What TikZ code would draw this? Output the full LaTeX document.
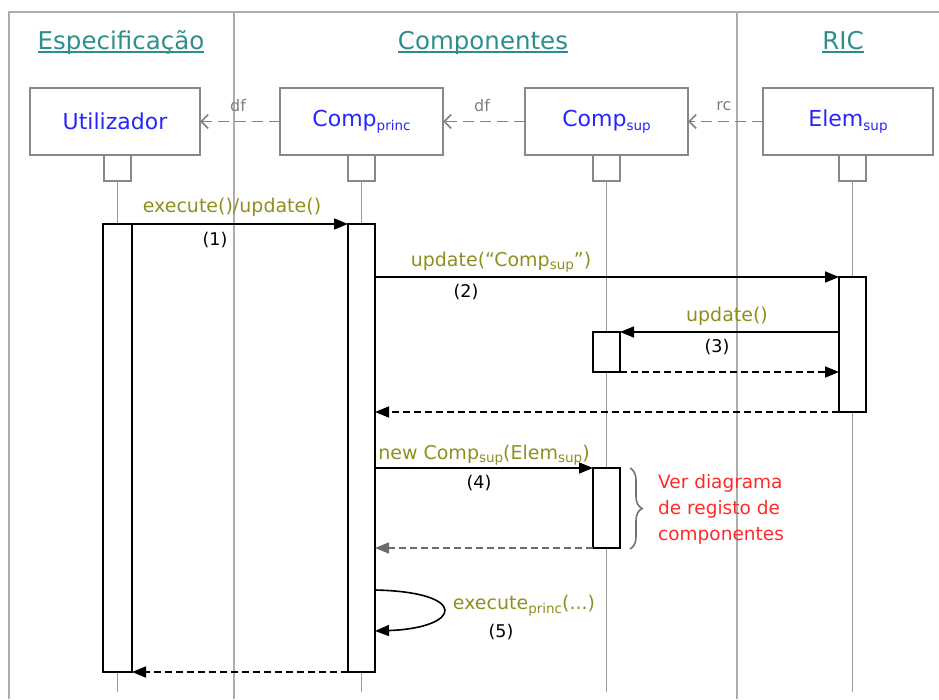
\documentclass[tikz,border=0pt]{standalone}
\usepackage{fontspec}
\setmainfont{DejaVu Sans}
\usetikzlibrary{arrows.meta,decorations.pathreplacing,calc}
\definecolor{framegray}{HTML}{ADADAD}
\definecolor{lifegray}{HTML}{9A9A9A}
\definecolor{boxgray}{HTML}{888888}
\definecolor{headteal}{HTML}{2E8E8E}
\definecolor{objblue}{HTML}{2626FF}
\definecolor{msgolive}{HTML}{8F8F1F}
\definecolor{notered}{HTML}{FF2A2A}
\newcommand*\subtx[1]{\raisebox{-0.35ex}{\fontsize{13.5}{13.5}\selectfont #1}}
\begin{document}
\begin{tikzpicture}[x=1pt,y=-1pt,
  frameline/.style={draw=framegray,line width=1.8pt},
  header/.style={text=headteal,font=\fontsize{24.5}{24.5}\selectfont,inner sep=0,anchor=base},
  headrule/.style={draw=headteal,line width=1.4pt},
  objbox/.style={draw=boxgray,line width=1.8pt,fill=white,minimum height=67pt,
    inner sep=0,outer sep=0,text=objblue,font=\fontsize{22}{22}\selectfont},
  stub/.style={draw=boxgray,line width=1.8pt,fill=white,minimum width=27pt,
    minimum height=26pt,inner sep=0,outer sep=0,anchor=north},
  actbar/.style={draw=black,line width=1.7pt,fill=white,minimum width=27pt,
    inner sep=0,outer sep=0,anchor=north},
  life/.style={draw=lifegray,line width=1.7pt},
  msg/.style={-{Triangle[length=14pt,width=11pt]},line width=1.6pt},
  ret/.style={msg,dash pattern=on 7pt off 4pt},
  dep/.style={draw=gray,line width=1.7pt,dash pattern=on 11pt off 6pt,
    -{Straight Barb[length=7pt,width=14pt,line width=1.7pt]}},
  deplbl/.style={text=gray,font=\fontsize{16}{16}\selectfont,inner sep=0},
  lbl/.style={text=msgolive,font=\fontsize{19}{19}\selectfont,inner sep=0},
  num/.style={font=\fontsize{17.5}{17.5}\selectfont,inner sep=0},
  note/.style={text=notered,font=\fontsize{18.5}{26}\selectfont,inner sep=0,
    align=left,anchor=west}]

\useasboundingbox (0,0) rectangle (939,699);

% swimlane frame
\draw[frameline] (9,699) -- (9,12) -- (939,12);
\draw[frameline] (234,12) -- (234,699);
\draw[frameline] (737,12) -- (737,699);

% lane headers, underlined at a common height
\node[header] (hspec) at (121,49) {Especificação};
\node[header] (hcomp) at (483,49) {Componentes};
\node[header] (hric)  at (843,49) {RIC};
\foreach \h in {hspec,hcomp,hric}
  \draw[headrule] ([yshift=-3pt]\h.base west) -- ([yshift=-3pt]\h.base east);

% objects
\node[objbox,minimum width=170pt] (ubox) at (115,121.5)   {Utilizador};
\node[objbox,minimum width=163pt] (pbox) at (361.5,121.5) {Comp\subtx{princ}};
\node[objbox,minimum width=163pt] (sbox) at (606.5,121.5) {Comp\subtx{sup}};
\node[objbox,minimum width=170pt] (ebox) at (848,121.5)   {Elem\subtx{sup}};

% dependencies between objects
\draw[dep] (pbox.west) -- (ubox.east);
\draw[dep] (sbox.west) -- (pbox.east);
\draw[dep] (ebox.west) -- (sbox.east);
\node[deplbl] (df1) at (238,106) {df};
\node[deplbl] (df2) at (482,106) {df};
\node[deplbl] (rc1) at (724,106) {rc};

% lifeline heads
\node[stub] (ustub) at (117.5,155) {};
\node[stub] (pstub) at (361.5,155) {};
\node[stub] (sstub) at (606.5,155) {};
\node[stub] (estub) at (852.5,155) {};

% lifeline ends
\coordinate (uend) at (117.5,692);
\coordinate (pend) at (361.5,692);
\coordinate (send) at (606.5,692);
\coordinate (eend) at (852.5,692);
\draw[life] (ustub.south) -- (uend);
\draw[life] (pstub.south) -- (pend);
\draw[life] (sstub.south) -- (send);
\draw[life] (estub.south) -- (eend);

% activation bars
\node[actbar,minimum width=29pt,minimum height=448pt] (ubar)  at (117.5,224) {};
\node[actbar,minimum height=448pt] (pbar)  at (361.5,224) {};
\node[actbar,minimum height=135pt] (ebar)  at (852.5,277) {};
\node[actbar,minimum height=40pt]  (sbar1) at (606.5,332) {};
\node[actbar,minimum height=80pt]  (sbar2) at (606.5,468) {};

% (1)
\draw[msg] (ubar.north east) -- (pbar.north west);
\node[lbl] (m1) at (232,207) {execute()/update()};
\node[num] (n1) at (215,240) {(1)};

% (2)
\draw[msg] (pbar.east |- ebar.north) -- (ebar.north west);
\node[lbl] (m2) at (501,262) {update(“Comp\subtx{sup}”)};
\node[num] (n2) at (466,292) {(2)};

% (3)
\draw[msg] (ebar.west |- sbar1.north) -- (sbar1.north east);
\node[lbl] (m3) at (727,316) {update()};
\node[num] (n3) at (717,347) {(3)};
\draw[ret] (sbar1.south east) -- (ebar.west |- sbar1.south);
\draw[ret] (ebar.south west) -- (pbar.east |- ebar.south);

% (4)
\draw[msg] (pbar.east |- sbar2.north) -- (sbar2.north west);
\node[lbl] (m4) at (484,455) {new Comp\subtx{sup}(Elem\subtx{sup})};
\node[num] (n4) at (479,483) {(4)};
\draw[ret,draw=gray!85!black] (sbar2.south west) -- (pbar.east |- sbar2.south);

% registration note
\draw[draw=gray!90!black,line width=1.6pt,decorate,decoration={brace,amplitude=12pt}]
  (630,468) -- (630,549);
\node[note] (vernote) at (658,509) {Ver diagrama\\de registo de\\componentes};

% (5) self call
\coordinate (loopa) at (0,590);
\coordinate (loopb) at (0,631);
\draw[msg] (pbar.east |- loopa) .. controls (470,592) and (462,628) .. (pbar.east |- loopb);
\node[lbl] (m5) at (524,606) {execute\subtx{princ}(...)};
\node[num] (n5) at (501,632) {(5)};

% final return
\draw[ret] (pbar.south west) -- (ubar.south east);
\end{tikzpicture}
\end{document}
